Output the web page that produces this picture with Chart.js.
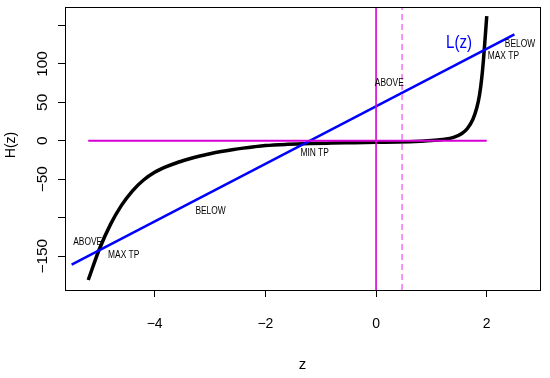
<!DOCTYPE html>
<html>
<head>
<meta charset="utf-8">
<script src="https://cdn.jsdelivr.net/npm/chart.js@4.4.1/dist/chart.umd.min.js"></script>
<style>
  html, body { margin: 0; padding: 0; background: #fff; }
  #wrap { width: 550px; height: 378px; }
</style>
</head>
<body>
<div id="wrap"><canvas id="plot"></canvas></div>
<script>
// ~~ data ~~
var curveZ = [-5.2, -5.0, -4.8, -4.6, -4.4, -4.2, -4.0, -3.8, -3.6, -3.4, -3.2, -3.0, -2.8, -2.6, -2.4, -2.2, -2.0, -1.6, -1.2, -0.8, -0.4, 0, 0.4, 0.8, 1.0, 1.2, 1.4, 1.55, 1.65, 1.75, 1.82, 1.87, 1.91, 1.94, 1.97, 2.0];
var curveH = [-181, -141, -109, -84, -65, -51, -41, -34, -28.5, -24, -20, -16.8, -14, -11.6, -9.5, -7.7, -6.2, -4.6, -3.6, -3.0, -2.5, -2.0, -1.5, -0.5, 0.3, 1.8, 4.5, 9.5, 16, 28, 43, 60, 82, 105, 133, 162];

var lineZ = [-5.5, 2.5];
var lineL = [-161, 138.5];

var zeroZ = [-5.2, 2.0];
var zeroH = [0, 0];

var vLineZ = 0;
var dashZ = 0.47;

var xTicks = [-4, -2, 0, 2];
var yTicks = [-150, -100, -50, 0, 50, 100, 150];
var yTickLabels = ["-150", "", "-50", "0", "50", "100", ""];

var xMin = -5.62, xMax = 2.98;
var yMin = -194, yMax = 174;

// text in the plot: [text, z, H]
var notes = [
  ["BELOW", 2.60, 126],
  ["MAX TP", 2.30, 110],
  ["ABOVE", 0.24, 75],
  ["MIN TP", -1.11, -16],
  ["BELOW", -2.99, -91],
  ["ABOVE", -5.21, -132],
  ["MAX TP", -4.56, -149]
];
var lzLabel = ["L(z)", 1.50, 127];

function pts(xs, ys) {
  var out = [];
  for (var i = 0; i < xs.length; i++) out.push({x: xs[i], y: ys[i]});
  return out;
}

var MAG = "#d600d6";

// box, rotated y labels, axis titles and notes
var extras = {
  id: "extras",
  afterDraw: function(chart) {
    var ctx = chart.ctx, a = chart.chartArea;
    var sx = chart.scales.x, sy = chart.scales.y;
    ctx.save();
    ctx.strokeStyle = "#000";
    ctx.lineWidth = 1;
    ctx.strokeRect(a.left + 0.5, a.top + 0.5, a.right - a.left - 1, a.bottom - a.top);

    ctx.fillStyle = "#000";
    ctx.textAlign = "center";
    ctx.textBaseline = "middle";
    ctx.font = "14px 'Liberation Sans', Arial, sans-serif";
    for (var i = 0; i < yTicks.length; i++) {
      if (!yTickLabels[i]) continue;
      ctx.save();
      ctx.translate(43, sy.getPixelForValue(yTicks[i]));
      ctx.rotate(-Math.PI / 2);
      ctx.scale(1.1, 1);
      ctx.fillText(yTickLabels[i].replace("-", "\u2212"), 0, 0);
      ctx.restore();
    }

    // axis titles
    ctx.font = "15px 'Liberation Sans', Arial, sans-serif";
    ctx.fillText("z", 302.5, 365);
    ctx.save();
    ctx.translate(11, 145);
    ctx.rotate(-Math.PI / 2);
    ctx.font = "14px 'Liberation Sans', Arial, sans-serif";
    ctx.fillText("H(z)", 0, 0);
    ctx.restore();

    // notes
    ctx.font = "10px 'Liberation Sans', Arial, sans-serif";
    notes.forEach(function(n) {
      ctx.save();
      ctx.translate(sx.getPixelForValue(n[1]), sy.getPixelForValue(n[2]));
      ctx.scale(0.84, 1);
      ctx.fillText(n[0], 0, 0);
      ctx.restore();
    });

    ctx.save();
    ctx.fillStyle = "#0000ff";
    ctx.font = "18px 'Liberation Sans', Arial, sans-serif";
    ctx.translate(sx.getPixelForValue(lzLabel[1]), sy.getPixelForValue(lzLabel[2]));
    ctx.scale(0.84, 1);
    ctx.fillText(lzLabel[0], 0, 0);
    ctx.restore();

    ctx.restore();
  }
};

new Chart(document.getElementById("plot"), {
  type: "scatter",
  data: {
    datasets: [
      {
        label: "H(z)",
        data: pts(curveZ, curveH),
        showLine: true,
        borderColor: "#000",
        borderWidth: 3.5,
        borderJoinStyle: "round",
        pointRadius: 0,
        cubicInterpolationMode: "monotone",
        order: 5
      },
      {
        label: "L(z)",
        data: pts(lineZ, lineL),
        showLine: true,
        borderColor: "#0000ff",
        borderWidth: 2.5,
        pointRadius: 0,
        order: 4
      },
      {
        label: "zero",
        data: pts(zeroZ, zeroH),
        showLine: true,
        borderColor: MAG,
        borderWidth: 2,
        pointRadius: 0,
        order: 3
      },
      {
        label: "z = 0",
        data: pts([vLineZ, vLineZ], [yMin, yMax]),
        showLine: true,
        borderColor: MAG,
        borderWidth: 1.6,
        pointRadius: 0,
        order: 2
      },
      {
        label: "dashed",
        data: pts([dashZ, dashZ], [yMin, yMax]),
        showLine: true,
        borderColor: "#f27af2",
        borderWidth: 1.6,
        borderDash: [6, 4],
        pointRadius: 0,
        order: 1
      }
    ]
  },
  options: {
    responsive: true,
    maintainAspectRatio: false,
    animation: false,
    layout: { padding: { top: 7, right: 9, left: 0, bottom: 0 } },
    plugins: {
      legend: { display: false },
      tooltip: { enabled: false }
    },
    scales: {
      x: {
        type: "linear",
        min: xMin,
        max: xMax,
        afterBuildTicks: function(s) { s.ticks = xTicks.map(function(v) { return {value: v}; }); },
        afterFit: function(s) { s.height = 88; },
        grid: { drawOnChartArea: false, drawTicks: true, tickLength: 7, color: "#000", lineWidth: 1 },
        border: { display: false },
        ticks: {
          color: "#000",
          padding: 19,
          maxRotation: 0,
          font: { family: "'Liberation Sans', Arial, sans-serif", size: 14 },
          callback: function(v) { return String(v).replace("-", "\u2212"); }
        }
      },
      y: {
        type: "linear",
        min: yMin,
        max: yMax,
        afterBuildTicks: function(s) { s.ticks = yTicks.map(function(v) { return {value: v}; }); },
        afterFit: function(s) { s.width = 65; },
        grid: { drawOnChartArea: false, drawTicks: true, tickLength: 7, color: "#000", lineWidth: 1 },
        border: { display: false },
        ticks: { display: false }
      }
    }
  },
  plugins: [extras]
});
</script>
</body>
</html>
